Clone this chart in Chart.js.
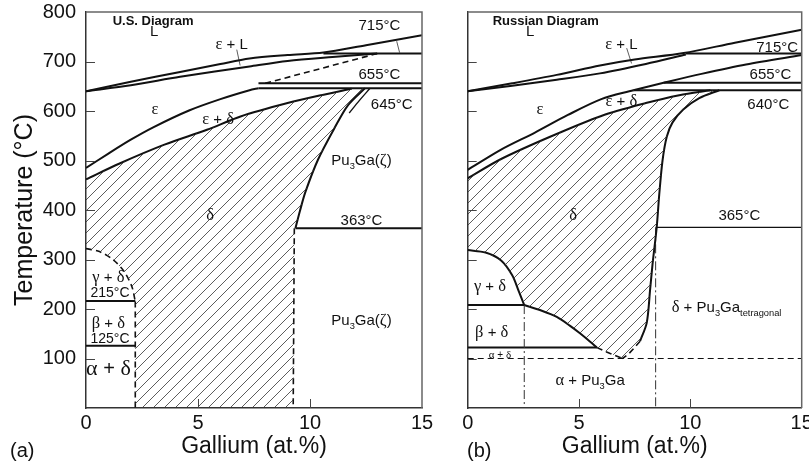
<!DOCTYPE html>
<html>
<head>
<meta charset="utf-8">
<script src="https://cdn.jsdelivr.net/npm/chart.js@4.4.0/dist/chart.umd.min.js"></script>
<style>
  body { margin: 0; background: #fff; width: 809px; height: 467px; overflow: hidden; position: relative; }
  #us { position: absolute; left: 0; top: 0; }
  #ru { position: absolute; left: 440px; top: 0; }
</style>
</head>
<body>
<canvas id="us" width="440" height="467"></canvas>
<canvas id="ru" width="369" height="467"></canvas>
<script>
// axis ticks
const xTicks = [0, 5, 10, 15];
const yTicks = [100, 200, 300, 400, 500, 600, 700, 800];

// ---- U.S. diagram: [Ga at.%, T in °C] ----
const usLiquidus = [[0, 640], [2, 659], [4.2, 679], [6, 695], [7.3, 706], [9, 713], [10.6, 718], [12.5, 733], [15, 753]];
const usSolidus = [[0, 640], [2, 652], [4.2, 669], [7.3, 690], [9, 701], [11, 709], [13, 716]];
const us715 = [[10.6, 716], [15, 716]];
const usDashed = [[8.0, 656], [13, 716]];
const us655 = [[7.7, 656], [15, 656]];
const us645 = [[7.7, 646], [15, 646]];
const usEpsUpper = [[0, 485], [1, 514], [2, 542], [3, 567], [4.6, 601], [6, 624], [7.3, 642], [7.7, 646]];
const usEpsDelta = [[0, 462], [1.5, 494], [3.5, 532], [5.4, 562], [6.9, 589], [9, 616], [10.5, 632], [11.86, 645]];
const usDeltaRight = [[12.45, 646], [11.7, 612], [11.1, 566], [10.36, 502], [9.8, 437], [9.55, 398], [9.35, 363]];
const usZeta = [[12.68, 646], [12.2, 621], [11.75, 596]];
const usDelta9 = [[9.3, 363], [9.25, 0]];
const us363 = [[9.35, 363], [15, 363]];
const usDome = [[0, 322], [0.6, 316], [1.2, 300], [1.7, 276], [2.05, 245], [2.2, 215]];
const usDelta2 = [[2.2, 215], [2.2, 0]];
const us215 = [[0, 216], [2.2, 216]];
const us125 = [[0, 126], [2.2, 126]];
const usLeadL = [[6.73, 724], [6.88, 692]];
const usLead715 = [[13.87, 741], [14.0, 718]];

// ---- Russian diagram ----
const ruLiquidus = [[0, 640], [2, 656], [4, 673], [5.94, 692], [7.5, 704], [9.7, 717], [12, 738], [15, 764]];
const ruSolidus = [[0, 640], [2, 651], [4, 663], [5.94, 676], [8, 695], [9.8, 714]];
const ru715 = [[9.8, 716], [15, 716]];
const ruEpsRight = [[7.44, 642], [8.8, 657], [10.5, 675], [12.5, 694], [15, 713]];
const ru655 = [[8.8, 657], [15, 657]];
const ru640 = [[7.44, 642], [15, 642]];
const ruEpsUpper = [[0, 481], [1.5, 522], [3, 556], [4.5, 592], [6, 624], [7.44, 642]];
const ruEpsDelta = [[0, 464], [1.5, 503], [3.7, 548], [6, 590], [8, 616], [9.5, 632], [10.9, 642]];
const ruDeltaRight = [[11.3, 642], [10.4, 626], [9.68, 603], [9.2, 577], [8.94, 548], [8.75, 500], [8.6, 430], [8.49, 366], [8.3, 290], [8.19, 238], [8.04, 172], [7.74, 135]];
const ruDeltaDash = [[7.74, 135], [7.45, 120], [7.2, 108], [6.95, 100]];
const ru365 = [[8.49, 365], [15, 365]];
const ruPhase84 = [[8.44, 365], [8.44, 0]];
const ruDome = [[0, 319], [0.8, 314], [1.5, 298], [2.0, 268], [2.3, 235], [2.54, 208]];
const ru208 = [[0, 208], [2.54, 208]];
const ruPhase25 = [[2.54, 208], [2.54, 0]];
const ruBetaDelta = [[2.54, 208], [3.3, 197], [4.0, 184], [4.6, 166], [5.04, 151], [5.5, 134], [5.8, 122]];
const ruBetaDash = [[5.8, 122], [6.4, 110], [6.95, 100]];
const ru122 = [[0, 122], [5.8, 122]];
const ru100 = [[0, 100], [15, 100]];
const ruLeadL = [[7.14, 727], [7.36, 696]];

// region labels (data coordinates)
const usLabels = [
  {t: 'U.S. Diagram', x: 1.19, y: 784, size: 13, bold: true, align: 'left'},
  {t: 'L', x: 3.04, y: 762},
  {t: 'ε + L', x: 6.5, y: 737},
  {t: '715°C', x: 13.1, y: 774},
  {t: '655°C', x: 13.1, y: 675},
  {t: '645°C', x: 13.65, y: 614},
  {t: 'ε', x: 3.08, y: 605},
  {t: 'ε + δ', x: 5.9, y: 585},
  {t: 'Pu_3Ga(ζ)', x: 12.3, y: 501},
  {t: 'δ', x: 5.54, y: 390},
  {t: '363°C', x: 12.3, y: 380},
  {t: 'γ + δ', x: 1.0, y: 266},
  {t: '215°C', x: 1.07, y: 234, size: 14},
  {t: 'β + δ', x: 1.0, y: 172},
  {t: '125°C', x: 1.07, y: 142, size: 14},
  {t: 'α + δ', x: 1.0, y: 82, size: 20},
  {t: 'Pu_3Ga(ζ)', x: 12.3, y: 178}
];
const ruLabels = [
  {t: 'Russian Diagram', x: 1.12, y: 784, size: 13, bold: true, align: 'left'},
  {t: 'L', x: 2.8, y: 762},
  {t: 'ε + L', x: 6.9, y: 737},
  {t: '715°C', x: 13.9, y: 730},
  {t: '655°C', x: 13.6, y: 676},
  {t: '640°C', x: 13.5, y: 614},
  {t: 'ε', x: 3.25, y: 605},
  {t: 'ε + δ', x: 6.9, y: 622},
  {t: 'δ', x: 4.74, y: 390},
  {t: '365°C', x: 12.2, y: 390},
  {t: 'γ + δ', x: 1.0, y: 248},
  {t: 'β + δ', x: 1.08, y: 154},
  {t: 'α + δ', x: 1.45, y: 109, size: 10},
  {t: 'α + Pu_3Ga', x: 5.5, y: 57},
  {t: 'δ + Pu_3Ga_{tetragonal}', x: 9.16, y: 205, align: 'left'}
];

const SANS = '"Liberation Sans", Arial, sans-serif';
const SERIF = '"Liberation Serif", "Times New Roman", serif';

function pts(a) {
  return a.map(p => ({x: p[0], y: p[1]}));
}

function seg(data, o) {
  return Object.assign({
    data: pts(data), showLine: true, pointRadius: 0, borderColor: '#111',
    borderWidth: 2, tension: 0, fill: false
  }, o || {});
}

const curve = {tension: 0.3};
const dashed = {borderDash: [6, 4], borderWidth: 1.6};
const dashDot = {borderDash: [9, 3, 2, 3], borderWidth: 1, borderColor: '#333'};
const leader = {borderWidth: 0.8, borderColor: '#333'};

// diagonal hatching for the delta field
function hatch() {
  const s = 11;
  const c = document.createElement('canvas');
  c.width = s; c.height = s;
  const g = c.getContext('2d');
  g.strokeStyle = '#333';
  g.lineWidth = 0.8;
  g.beginPath();
  g.moveTo(0, s); g.lineTo(s, 0);
  g.moveTo(-1, 1); g.lineTo(1, -1);
  g.moveTo(s - 1, s + 1); g.lineTo(s + 1, s - 1);
  g.stroke();
  return g.createPattern(c, 'repeat');
}
const pattern = hatch();

const rev = a => a.slice().reverse();
const usDeltaField = [].concat(usEpsDelta, usDeltaRight, usDelta9, [[2.2, 0]], rev(usDome));
const ruDeltaField = [].concat(ruEpsDelta, ruDeltaRight, ruDeltaDash, rev(ruBetaDash), rev(ruBetaDelta), rev(ruDome));

// text with greek letters in serif and _sub / _{sub} subscripts
function runs(str) {
  const out = [];
  let i = 0;
  while (i < str.length) {
    let sub = false, s;
    if (str[i] === '_') {
      sub = true; i++;
      if (str[i] === '{') { const j = str.indexOf('}', i); s = str.slice(i + 1, j); i = j + 1; }
      else { s = str[i]; i++; }
    } else {
      let j = i;
      while (j < str.length && str[j] !== '_') j++;
      s = str.slice(i, j); i = j;
    }
    s.split(/([\u0370-\u03ff]+)/).forEach(p => {
      if (p) out.push({s: p, sub: sub, greek: /[\u0370-\u03ff]/.test(p)});
    });
  }
  return out;
}

function fontFor(r, size, bold) {
  const sz = r.sub ? size * 0.62 : (r.greek ? size * 1.1 : size);
  return (bold ? 'bold ' : '') + sz.toFixed(1) + 'px ' + (r.greek ? SERIF : SANS);
}

function drawLabel(ctx, px, py, L) {
  const size = L.size || 15;
  const rs = runs(L.t);
  let w = 0;
  rs.forEach(r => { ctx.font = fontFor(r, size, L.bold); r.w = ctx.measureText(r.s).width; w += r.w; });
  let x = L.align === 'left' ? px : px - w / 2;
  const base = py + size * 0.36;
  ctx.textAlign = 'left';
  ctx.textBaseline = 'alphabetic';
  rs.forEach(r => {
    ctx.font = fontFor(r, size, L.bold);
    ctx.fillText(r.s, x, base + (r.sub ? size * 0.25 : 0));
    x += r.w;
  });
}

function decor(labels, letter, letterX) {
  return {
    id: 'decor',
    afterDraw(chart) {
      const {ctx, chartArea: a} = chart;
      const xs = chart.scales.x, ys = chart.scales.y;
      ctx.save();
      ctx.strokeStyle = '#666';
      ctx.lineWidth = 1.5;
      ctx.beginPath();
      ctx.moveTo(a.left, a.top); ctx.lineTo(a.right, a.top); ctx.lineTo(a.right, a.bottom);
      ctx.stroke();
      // inward tick marks
      ctx.strokeStyle = '#444';
      ctx.lineWidth = 1;
      ctx.beginPath();
      ys.ticks.forEach(t => {
        if (t.value > ys.min && t.value < ys.max) {
          const p = Math.round(ys.getPixelForValue(t.value)) + 0.5;
          ctx.moveTo(a.left, p); ctx.lineTo(a.left + 9, p);
        }
      });
      xs.ticks.forEach(t => {
        if (t.value > xs.min && t.value < xs.max) {
          const p = Math.round(xs.getPixelForValue(t.value)) + 0.5;
          ctx.moveTo(p, a.bottom); ctx.lineTo(p, a.bottom - 9);
        }
      });
      ctx.stroke();
      ctx.fillStyle = '#111';
      labels.forEach(L => drawLabel(ctx, xs.getPixelForValue(L.x), ys.getPixelForValue(L.y), L));
      ctx.font = '20px ' + SANS;
      ctx.textBaseline = 'middle';
      ctx.fillText(letter, letterX, 451);
      ctx.restore();
    }
  };
}

function makeChart(id, datasets, labels, letter, letterX, yWidth, padRight, showY) {
  return new Chart(document.getElementById(id), {
    type: 'scatter',
    data: {datasets: datasets},
    options: {
      responsive: false,
      animation: false,
      events: [],
      layout: {padding: {left: 0, right: padRight, top: 12, bottom: 0}},
      plugins: {legend: {display: false}, tooltip: {enabled: false}},
      scales: {
        x: {
          type: 'linear', min: 0, max: 15,
          afterBuildTicks: s => { s.ticks = xTicks.map(v => ({value: v})); },
          afterFit: s => { s.height = 59; s.paddingLeft = 0; s.paddingRight = 0; },
          ticks: {font: {size: 20, family: SANS}, color: '#111', padding: 3, maxRotation: 0},
          grid: {display: false, drawTicks: false},
          border: {display: true, color: '#333', width: 1.5},
          title: {display: true, text: 'Gallium (at.%)', color: '#111', font: {size: 23, family: SANS}, padding: {top: 0, bottom: 7}}
        },
        y: {
          type: 'linear', min: 0, max: 800,
          afterBuildTicks: s => { s.ticks = yTicks.map(v => ({value: v})); },
          afterFit: s => { s.width = yWidth; s.paddingTop = 0; s.paddingBottom = 0; },
          ticks: {display: showY, font: {size: 20, family: SANS}, color: '#111', padding: 10},
          grid: {display: false, drawTicks: false},
          border: {display: true, color: '#333', width: 1.5},
          title: {display: showY, text: 'Temperature (°C)', color: '#111', font: {size: 25, family: SANS}, padding: {top: 10, bottom: 0}}
        }
      }
    },
    plugins: [decor(labels, letter, letterX)]
  });
}

makeChart('us', [
  seg(usDeltaField, {borderWidth: 0, fill: 'shape', backgroundColor: pattern}),
  seg(usLiquidus, curve),
  seg(usSolidus, curve),
  seg(us715),
  seg(usDashed, dashed),
  seg(us655),
  seg(us645),
  seg(usEpsUpper, curve),
  seg(usEpsDelta, curve),
  seg(usDeltaRight, curve),
  seg(usZeta, Object.assign({borderWidth: 1.4}, curve)),
  seg(usDelta9, dashed),
  seg(us363),
  seg(usDome, Object.assign({}, dashed, curve)),
  seg(usDelta2, dashed),
  seg(us215),
  seg(us125),
  seg(usLeadL, leader),
  seg(usLead715, leader)
], usLabels, '(a)', 10, 86, 18, true);

makeChart('ru', [
  seg(ruDeltaField, {borderWidth: 0, fill: 'shape', backgroundColor: pattern}),
  seg(ruLiquidus, curve),
  seg(ruSolidus, curve),
  seg(ru715),
  seg(ruEpsRight, curve),
  seg(ru655),
  seg(ru640),
  seg(ruEpsUpper, curve),
  seg(ruEpsDelta, curve),
  seg(ruDeltaRight, curve),
  seg(ruDeltaDash, dashed),
  seg(ru365, {borderWidth: 1.4}),
  seg(ruPhase84, dashDot),
  seg(ruDome, curve),
  seg(ru208),
  seg(ruPhase25, dashDot),
  seg(ruBetaDelta, curve),
  seg(ruBetaDash, dashed),
  seg(ru122),
  seg(ru100, Object.assign({}, dashed, {borderWidth: 1.2})),
  seg(ruLeadL, leader)
], ruLabels, '(b)', 27, 27.7, 7.3, false);
</script>
</body>
</html>
